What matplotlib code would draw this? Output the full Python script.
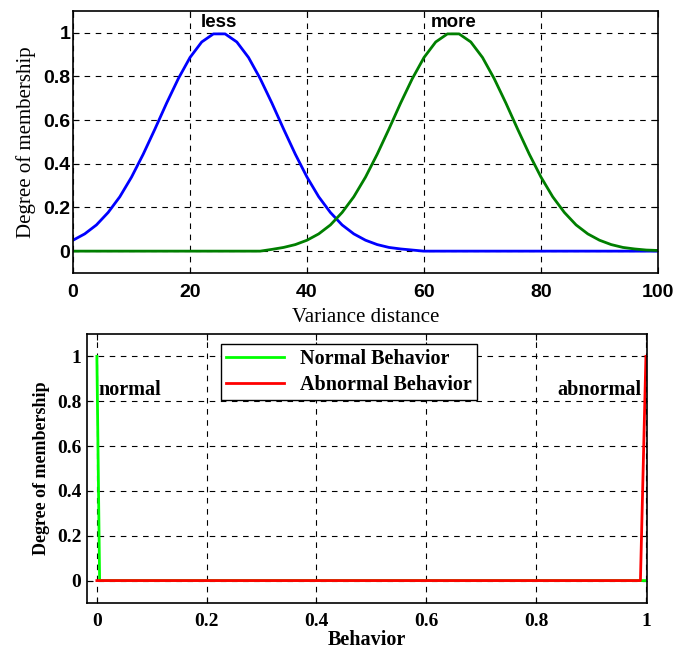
import numpy as np
import matplotlib.pyplot as plt

# top panel: membership curves (step 2)
dist = list(range(0, 101, 2))
less = [0.05, 0.079, 0.12, 0.177, 0.249, 0.339, 0.444, 0.559, 0.678, 0.79, 0.887, 0.958,
        0.995, 0.995, 0.958, 0.887, 0.79, 0.678, 0.559, 0.444, 0.339, 0.249, 0.177, 0.12,
        0.079, 0.05, 0.03, 0.017, 0.01, 0.005, 0.0, 0.0, 0.0, 0.0, 0.0, 0.0, 0.0, 0.0, 0.0,
        0.0, 0.0, 0.0, 0.0, 0.0, 0.0, 0.0, 0.0, 0.0, 0.0, 0.0, 0.0]
more = [0.0, 0.0, 0.0, 0.0, 0.0, 0.0, 0.0, 0.0, 0.0, 0.0, 0.0, 0.0, 0.0, 0.0, 0.0, 0.0,
        0.0, 0.008, 0.017, 0.03, 0.05, 0.079, 0.12, 0.177, 0.249, 0.339, 0.444, 0.559, 0.678,
        0.79, 0.887, 0.958, 0.995, 0.995, 0.958, 0.887, 0.79, 0.678, 0.559, 0.444, 0.339,
        0.249, 0.177, 0.12, 0.079, 0.05, 0.03, 0.017, 0.01, 0.005, 0.003]

# bottom panel
normal_x = [0, 0.005, 1]
normal_y = [1, 0, 0]
abnormal_x = [0, 0.99, 1]
abnormal_y = [0, 0, 1]

fig = plt.figure(figsize=(6.78, 6.49), dpi=100)

grid_kw = dict(color='black', linestyle=(0, (5, 5)), linewidth=0.8)

# ---- top
ax1 = fig.add_axes([0.1077, 0.5794, 0.8628, 0.4037])
ax1.plot(dist, less, color='#0000ff', lw=2)
ax1.plot(dist, more, color='#007f00', lw=2)
ax1.set_xlim(0, 100)
ax1.set_ylim(-0.1, 1.1)
ax1.set_xticks([0, 20, 40, 60, 80, 100])
ax1.set_yticks([0, 0.2, 0.4, 0.6, 0.8, 1])
ax1.set_yticklabels(['0', '0.2', '0.4', '0.6', '0.8', '1'])
ax1.grid(True, **grid_kw)
ax1.tick_params(direction='in', top=True, right=True, length=4)
ax1.tick_params(axis='x', pad=8)
ax1.tick_params(axis='y', pad=2)
for lab in ax1.get_xticklabels() + ax1.get_yticklabels():
    lab.set_fontfamily('Liberation Sans')
    lab.set_fontweight('bold')
    lab.set_fontsize(14)
ax1.set_xlabel('Variance distance', fontfamily='Liberation Serif', fontsize=15, labelpad=5)
ax1.set_ylabel('Degree of membership', fontfamily='Liberation Serif', fontsize=15, labelpad=5)
ax1.text(25, 1.01, 'less', ha='center', va='bottom', fontfamily='Liberation Sans',
         fontweight='bold', fontsize=13.5)
ax1.text(65, 1.01, 'more', ha='center', va='bottom', fontfamily='Liberation Sans',
         fontweight='bold', fontsize=13.5)
for s in ax1.spines.values():
    s.set_linewidth(1.2)

# ---- bottom
ax2 = fig.add_axes([0.1283, 0.0709, 0.8260, 0.4145])
ax2.plot(normal_x, normal_y, color='#00ff00', lw=2, label='Normal Behavior')
ax2.plot(abnormal_x, abnormal_y, color='#ff0000', lw=2, label='Abnormal Behavior')
ax2.set_xlim(-0.018, 1.002)
ax2.set_ylim(-0.1, 1.1)
ax2.set_xticks([0, 0.2, 0.4, 0.6, 0.8, 1])
ax2.set_xticklabels(['0', '0.2', '0.4', '0.6', '0.8', '1'])
ax2.set_yticks([0, 0.2, 0.4, 0.6, 0.8, 1])
ax2.set_yticklabels(['0', '0.2', '0.4', '0.6', '0.8', '1'])
ax2.grid(True, **grid_kw)
ax2.tick_params(direction='in', top=True, right=True, length=4)
ax2.tick_params(axis='x', pad=7)
ax2.tick_params(axis='y', pad=4)
for lab in ax2.get_xticklabels() + ax2.get_yticklabels():
    lab.set_fontfamily('Liberation Serif')
    lab.set_fontweight('bold')
    lab.set_fontsize(14)
ax2.set_xlabel('Behavior', fontfamily='Liberation Serif', fontweight='bold', fontsize=14.5,
               labelpad=0)
ax2.set_ylabel('Degree of membership', fontfamily='Liberation Serif', fontweight='bold',
               fontsize=13, labelpad=5)
ax2.text(0.003, 0.85, 'normal', ha='left', va='center', fontfamily='Liberation Serif',
         fontweight='bold', fontsize=14.5)
ax2.text(0.992, 0.85, 'abnormal', ha='right', va='center', fontfamily='Liberation Serif',
         fontweight='bold', fontsize=14.5)
leg = ax2.legend(loc='upper left', bbox_to_anchor=(0.239, 0.963), fancybox=False,
                 framealpha=1, edgecolor='black', borderpad=0.25, handlelength=2.9,
                 labelspacing=0.3, borderaxespad=0,
                 prop={'family': 'Liberation Serif', 'weight': 'bold', 'size': 14.5})
leg.get_frame().set_linewidth(1.0)
for s in ax2.spines.values():
    s.set_linewidth(1.2)

fig.savefig('out.png', dpi=100)
